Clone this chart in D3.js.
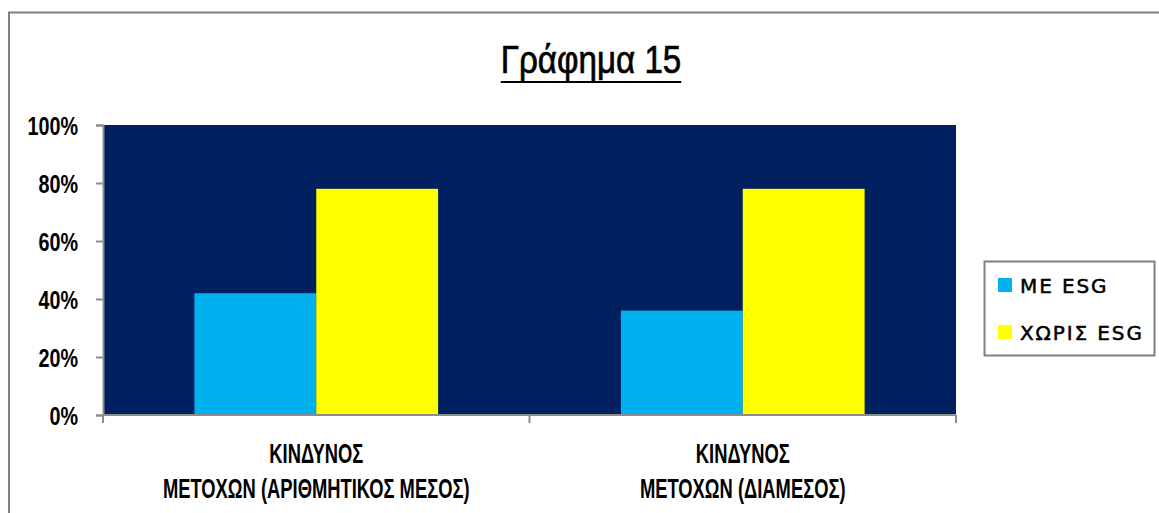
<!DOCTYPE html>
<html>
<head>
<meta charset="utf-8">
<script src="https://cdn.jsdelivr.net/npm/d3@7"></script>
<style>
  html, body { margin: 0; padding: 0; background: #ffffff; }
  svg { display: block; }
</style>
</head>
<body>
<svg id="chart" width="1159" height="513"></svg>
<script>
// Chart data
const title = "Γράφημα 15";
const categories = [
  ["ΚΙΝΔΥΝΟΣ", "ΜΕΤΟΧΩΝ (ΑΡΙΘΜΗΤΙΚΟΣ ΜΕΣΟΣ)"],
  ["ΚΙΝΔΥΝΟΣ", "ΜΕΤΟΧΩΝ (ΔΙΑΜΕΣΟΣ)"]
];
const seriesNames = ["ΜΕ ESG", "ΧΩΡΙΣ ESG"];
const withEsg = [0.42, 0.36];
const withoutEsg = [0.78, 0.78];
const yTicks = [0, 0.2, 0.4, 0.6, 0.8, 1.0];

const colors = ["#00B0F0", "#FFFF00"];
const plotBg = "#002060";
const axisGray = "#8c8c8c";

const svg = d3.select("#chart");
const W = 1159, H = 513;
const plot = { left: 103, right: 956, top: 125, bottom: 415 };

// Outer chart frame (extends past the right/bottom edges of the view)
svg.append("rect")
  .attr("x", 9).attr("y", 12.5)
  .attr("width", W + 20).attr("height", H + 20)
  .attr("fill", "#ffffff")
  .attr("stroke", "#808080").attr("stroke-width", 2);

// Helper: squeeze a text element horizontally to a fraction of its natural width
function condense(sel, k) {
  sel.each(function () {
    const len = this.getComputedTextLength();
    d3.select(this)
      .attr("textLength", len * k)
      .attr("lengthAdjust", "spacingAndGlyphs");
  });
}

const condensedFont = "'Liberation Sans', Arial, sans-serif";

// Title with underline
const titleText = svg.append("text")
  .attr("x", 591).attr("y", 73)
  .attr("text-anchor", "middle")
  .attr("font-family", condensedFont)
  .attr("font-size", 39)
  .attr("fill", "#000")
  .attr("stroke", "#000").attr("stroke-width", 0.7)
  .text(title);
condense(titleText, 0.85);
{
  const bb = titleText.node().getBBox();
  svg.append("line")
    .attr("x1", bb.x).attr("x2", bb.x + bb.width)
    .attr("y1", 82).attr("y2", 82)
    .attr("stroke", "#000").attr("stroke-width", 2);
}

// Scales
const x = d3.scaleBand()
  .domain(d3.range(categories.length))
  .range([plot.left, plot.right])
  .paddingInner(0).paddingOuter(0);

const xSub = d3.scaleBand()
  .domain(d3.range(seriesNames.length))
  .range([0, x.bandwidth()])
  .paddingInner(0).paddingOuter(0.75);

const y = d3.scaleLinear()
  .domain([0, 1])
  .range([plot.bottom, plot.top]);

// Plot background
svg.append("rect")
  .attr("x", plot.left).attr("y", plot.top)
  .attr("width", plot.right - plot.left)
  .attr("height", plot.bottom - plot.top)
  .attr("fill", plotBg);

// Bars
const series = [withEsg, withoutEsg];
series.forEach((vals, si) => {
  svg.append("g")
    .selectAll("rect")
    .data(vals)
    .join("rect")
    .attr("x", (d, i) => x(i) + xSub(si))
    .attr("y", d => y(d))
    .attr("width", xSub.bandwidth())
    .attr("height", d => y(0) - y(d))
    .attr("fill", colors[si]);
});

// Y axis
const yAxis = svg.append("g")
  .attr("transform", `translate(${plot.left},0)`)
  .call(d3.axisLeft(y).tickValues(yTicks).tickFormat(d3.format(".0%")).tickSize(7).tickPadding(18));
yAxis.select(".domain").attr("stroke", axisGray).attr("stroke-width", 2);
yAxis.selectAll(".tick line").attr("stroke", axisGray).attr("stroke-width", 2);
yAxis.selectAll(".tick text")
  .attr("font-family", condensedFont)
  .attr("font-size", 25)
  .attr("font-weight", "bold")
  .attr("fill", "#000")
  .attr("dy", "0.36em");
condense(yAxis.selectAll(".tick text"), 0.79);

// X axis line with category boundary ticks
svg.append("line")
  .attr("x1", plot.left).attr("x2", plot.right)
  .attr("y1", plot.bottom).attr("y2", plot.bottom)
  .attr("stroke", axisGray).attr("stroke-width", 2);
const boundaries = d3.range(categories.length + 1).map(i =>
  i < categories.length ? x(i) : x(i - 1) + x.bandwidth());
svg.append("g").selectAll("line")
  .data(boundaries)
  .join("line")
  .attr("x1", d => d).attr("x2", d => d)
  .attr("y1", plot.bottom).attr("y2", plot.bottom + 8)
  .attr("stroke", axisGray).attr("stroke-width", 2);

// Category labels (two lines each)
categories.forEach((lines, i) => {
  const cx = x(i) + x.bandwidth() / 2;
  lines.forEach((ln, j) => {
    const t = svg.append("text")
      .attr("x", cx)
      .attr("y", 463 + j * 35)
      .attr("text-anchor", "middle")
      .attr("font-family", condensedFont)
      .attr("font-size", 27)
      .attr("font-weight", "bold")
      .attr("fill", "#000")
      .text(ln);
    condense(t, 0.68);
  });
});

// Legend
const legend = svg.append("g");
legend.append("rect")
  .attr("x", 984.5).attr("y", 261.5)
  .attr("width", 170).attr("height", 94)
  .attr("fill", "#ffffff")
  .attr("stroke", "#808080").attr("stroke-width", 2);
seriesNames.forEach((name, i) => {
  const ly = 278 + i * 47;
  legend.append("rect")
    .attr("x", 998).attr("y", ly)
    .attr("width", 14).attr("height", 14)
    .attr("fill", colors[i]);
  legend.append("text")
    .attr("x", 1020).attr("y", ly + 15)
    .attr("font-family", "'DejaVu Sans', sans-serif")
    .attr("font-size", 20)
    .attr("letter-spacing", 1.9)
    .attr("fill", "#000")
    .attr("stroke", "#000").attr("stroke-width", 0.5)
    .text(name);
});
</script>
</body>
</html>
